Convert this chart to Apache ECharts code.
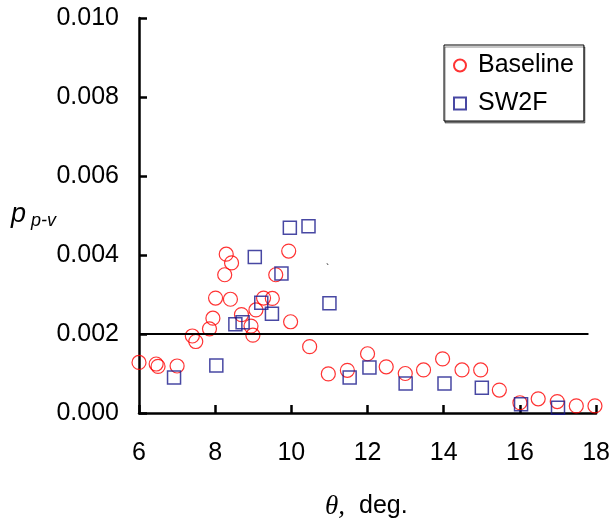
<!DOCTYPE html>
<html><head><meta charset="utf-8">
<script src="https://cdn.jsdelivr.net/npm/echarts@6/dist/echarts.min.js"></script>
<style>html,body{margin:0;padding:0;background:#fff}#c{width:613px;height:520px}</style>
</head><body><div id="c"></div>
<script>
const baselineX = [6.0, 6.45, 6.5, 7.0, 7.4, 7.49, 7.85, 7.94, 8.01, 8.29, 8.43, 8.25, 8.4, 8.69, 8.94, 8.99, 9.07, 9.27, 9.5, 9.59, 9.93, 9.98, 10.48, 10.97, 11.47, 12.0, 12.49, 12.99, 13.47, 13.97, 14.48, 14.97, 15.46, 16.0, 16.48, 16.98, 17.48, 17.97];
const baselineY = [0.00128, 0.00124, 0.00118, 0.00119, 0.00195, 0.00181, 0.00213, 0.00240, 0.00291, 0.00402, 0.00380, 0.00350, 0.00288, 0.00249, 0.00220, 0.00197, 0.00261, 0.00291, 0.00290, 0.00350, 0.00410, 0.00231, 0.00168, 0.00099, 0.00108, 0.00150, 0.00117, 0.00100, 0.00109, 0.00137, 0.00109, 0.00109, 0.00058, 0.00026, 0.00036, 0.00029, 0.00018, 0.00018];
const sw2fX = [6.92, 8.03, 8.53, 8.72, 9.04, 9.21, 9.49, 9.74, 9.96, 10.45, 11.0, 11.53, 12.05, 13.0, 14.02, 15.0, 16.03, 17.0];
const sw2fY = [0.00090, 0.00120, 0.00225, 0.00230, 0.00395, 0.00279, 0.00251, 0.00353, 0.00469, 0.00473, 0.00278, 0.00090, 0.00115, 0.00075, 0.00075, 0.00064, 0.00022, 0.00013];
const xTicks = [6, 8, 10, 12, 14, 16, 18];
const yTicks = ['0.000', '0.002', '0.004', '0.006', '0.008', '0.010'];
const refLineX = [6, 17.8];
const refLineY = 0.002;

const font = 'Liberation Sans, Arial, sans-serif';
const chart = echarts.init(document.getElementById('c'));
const zip = (xs, ys) => xs.map((x, i) => [x, ys[i]]);
chart.setOption({
  animation: false,
  grid: {left: 139, right: 16, top: 18, bottom: 107},
  xAxis: {
    type: 'value', min: 6, max: 18, interval: 2,
    axisLine: {lineStyle: {color: '#000', width: 2.5}},
    axisTick: {inside: true, length: 8, lineStyle: {color: '#000', width: 2.5}},
    axisLabel: {color: '#000', fontFamily: font, fontSize: 25, margin: 28,
      formatter: v => xTicks.includes(v) ? String(v) : ''},
    splitLine: {show: false}
  },
  yAxis: {
    type: 'value', min: 0, max: 0.01, interval: 0.002,
    axisLine: {show: true, lineStyle: {color: '#000', width: 2.5}},
    axisTick: {show: true, inside: true, length: 8, lineStyle: {color: '#000', width: 2.5}},
    axisLabel: {color: '#000', fontFamily: font, fontSize: 25, margin: 20,
      formatter: v => yTicks[Math.round(v / 0.002)]},
    splitLine: {show: false}
  },
  legend: {
    orient: 'vertical', left: 444, top: 45,
    padding: [8, 10, 5, 9], itemGap: 13,
    borderColor: '#000', borderWidth: 1, backgroundColor: '#fff',
    shadowColor: 'rgba(0,0,0,0.45)', shadowOffsetX: 1, shadowOffsetY: 2,
    itemWidth: 12, itemHeight: 12,
    textStyle: {fontFamily: font, fontSize: 25, color: '#000', padding: [0, 0, 0, 7]},
    data: [{name: 'Baseline', icon: 'circle'}, {name: 'SW2F', icon: 'rect'}]
  },
  series: [
    {
      name: 'Baseline', type: 'scatter', symbol: 'circle', symbolSize: 14,
      data: zip(baselineX, baselineY),
      itemStyle: {color: 'rgba(0,0,0,0)', borderColor: '#ff0000', borderWidth: 1.2},
      emphasis: {disabled: true},
      markLine: {
        silent: true, symbol: 'none', label: {show: false},
        lineStyle: {color: '#000', width: 2, type: 'solid'},
        data: [[{coord: [refLineX[0], refLineY]}, {coord: [refLineX[1], refLineY]}]]
      }
    },
    {
      name: 'SW2F', type: 'scatter', symbol: 'rect', symbolSize: 13,
      data: zip(sw2fX, sw2fY),
      itemStyle: {color: 'rgba(0,0,0,0)', borderColor: '#1a1a8c', borderWidth: 1.5},
      emphasis: {disabled: true}
    }
  ],
  graphic: [
    {type: 'text', left: 11, top: 201, style: {
      text: '{a|p}{b| p-v}', rich: {
        a: {fontFamily: font, fontStyle: 'italic', fontSize: 27, fill: '#000'},
        b: {fontFamily: font, fontStyle: 'italic', fontSize: 18, fill: '#000', padding: [12, 0, 0, 0]}
      }}},
    {type: 'text', left: 325, top: 493, style: {
      text: '{a|θ,}{b|deg.}', rich: {
        a: {fontFamily: 'Liberation Serif, Times New Roman, serif', fontStyle: 'italic', fontSize: 27, fill: '#000'},
        b: {fontFamily: font, fontSize: 25, fill: '#000', padding: [0, 0, 0, 14]}
      }}},
    {type: 'text', left: 326, top: 264, style: {text: '`', fontFamily: font, fontSize: 10, fill: '#000'}}
  ]
});
</script></body></html>
